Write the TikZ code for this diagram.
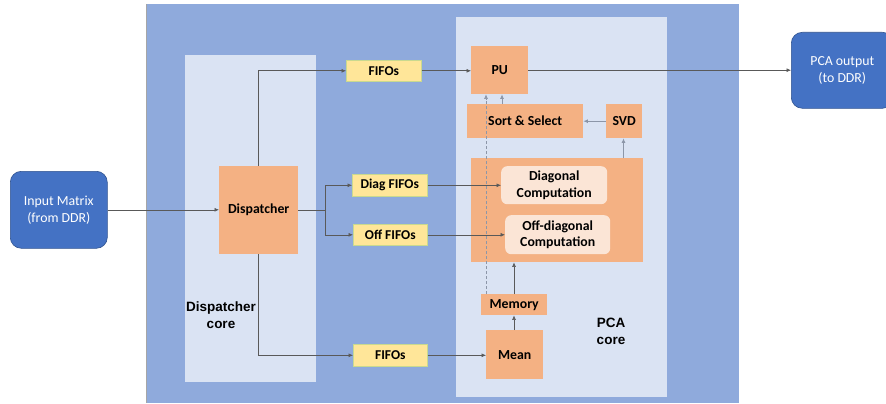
\documentclass[tikz,border=0pt]{standalone}
\usepackage{fontspec}
\setmainfont{Carlito}
\newfontfamily\arialfont{Liberation Sans}
\usetikzlibrary{arrows.meta}
\definecolor{bigblue}{HTML}{8FAADC}
\definecolor{panel}{HTML}{DAE3F3}
\definecolor{orng}{HTML}{F4B183}
\definecolor{lorng}{HTML}{FBE5D6}
\definecolor{yel}{HTML}{FFE699}
\definecolor{yelb}{HTML}{C9D98F}
\definecolor{ioblue}{HTML}{4472C4}
\definecolor{iobord}{HTML}{2F528F}
\definecolor{ln}{HTML}{595959}
\definecolor{lnl}{HTML}{8C96A8}
\tikzset{
  blk/.style={anchor=north west, inner sep=0pt, align=center, font=\fontsize{13.8}{16.5}\selectfont\bfseries},
  obox/.style={blk, fill=orng},
  ibox/.style={blk, fill=lorng, rounded corners=6pt},
  fifo/.style={blk, fill=yel, draw=yelb, line width=0.6pt, font=\fontsize{13.5}{15}\selectfont\bfseries},
  iobox/.style={anchor=north west, inner sep=0pt, align=center, fill=ioblue, draw=iobord, line width=0.6pt, rounded corners=11pt, text=white, font=\fontsize{13.8}{17}\selectfont},
  arr/.style={draw=ln, line width=0.6pt, -{Latex[length=4.5pt,width=4pt]}},
  arrl/.style={draw=lnl, line width=0.8pt, -{Latex[length=4.5pt,width=4pt]}},
  corelbl/.style={align=center, font=\arialfont\fontsize{13.5}{17}\selectfont\bfseries},
}
\begin{document}
\begin{tikzpicture}[x=1pt,y=-1pt]
\useasboundingbox (0,0) rectangle (886,404);
% panels
\fill[bigblue] (146,4) rectangle (739,403);
\draw[gray!70, line width=0.6pt] (146,4) -- (146,403);
\fill[panel] (185,55) rectangle (316,382);
\fill[panel] (456,17) rectangle (667,397);
% core labels
\node[corelbl] (dcl) at (221,315.5) {Dispatcher\\core};
\node[corelbl] (pcl) at (611,331) {PCA\\core};
% io
\node[iobox, minimum width=97pt, minimum height=77pt] (in) at (10,171) {Input Matrix\\(from DDR)};
\node[iobox, minimum width=102pt, minimum height=76pt] (out) at (791,32) {PCA output\\(to DDR)};
% dispatcher
\node[obox, minimum width=79pt, minimum height=88pt] (disp) at (219,166) {Dispatcher};
% fifos
\node[fifo, minimum width=75pt, minimum height=21pt] (f1) at (346,60) {FIFOs};
\node[fifo, minimum width=75pt, minimum height=22pt] (df) at (352,174) {Diag FIFOs};
\node[fifo, minimum width=74pt, minimum height=21pt] (of) at (353,224) {Off FIFOs};
\node[fifo, minimum width=74pt, minimum height=22pt] (f3) at (353,344) {FIFOs};
% PCA core blocks
\node[obox, minimum width=57pt, minimum height=48pt] (pu) at (471,46) {PU};
\node[obox, minimum width=116pt, minimum height=34pt] (sort) at (467,104) {Sort \& Select};
\node[obox, minimum width=36pt, minimum height=34pt] (svd) at (606,104) {SVD};
\node[obox, minimum width=172pt, minimum height=104pt] (big) at (471,158) {};
\node[ibox, minimum width=106pt, minimum height=38pt] (diag) at (501,166) {Diagonal\\Computation};
\node[ibox, minimum width=105pt, minimum height=39pt] (offd) at (505,215) {Off-diagonal\\Computation};
\node[obox, minimum width=66pt, minimum height=21pt] (mem) at (481,294) {Memory};
\node[obox, minimum width=57pt, minimum height=49pt] (mean) at (486,330) {Mean};
% helper coordinates
\coordinate (xa) at (486,0);
\coordinate (xb) at (502,0);
\coordinate (xc) at (514,0);
\coordinate (xd) at (623.5,0);
\coordinate (split) at (325.5,210);
% connectors
\draw[arr] (in.east) -- (in.east -| disp.west);
\draw[arr] (disp.north) |- (f1.west);
\draw[arr] (f1.east) -- (f1.east -| pu.west);
\draw[arr] (pu.east) -- (pu.east -| out.west);
\draw[ln, line width=0.6pt] (disp.east |- split) -- (split);
\draw[arr] (split) |- (df.west);
\draw[arr] (split) |- (of.west);
\draw[arr] (df.east) -- (df.east -| diag.west);
\draw[arr] (of.east) -- (of.east -| offd.west);
\draw[arr] (disp.south) |- (f3.west);
\draw[arr] (f3.east) -- (f3.east -| mean.west);
\draw[arr] (mean.north -| xc) -- (mem.south -| xc);
\draw[arr] (mem.north -| xc) -- (big.south -| xc);
\draw[arrl] (big.north -| xd) -- (svd.south -| xd);
\draw[arrl] (svd.west) -- (sort.east);
\draw[arrl] (sort.north -| xb) -- (pu.south -| xb);
\draw[arrl, dashed, dash pattern=on 3pt off 2pt, line width=0.6pt] (mem.north -| xa) -- (pu.south -| xa);
\end{tikzpicture}
\end{document}
